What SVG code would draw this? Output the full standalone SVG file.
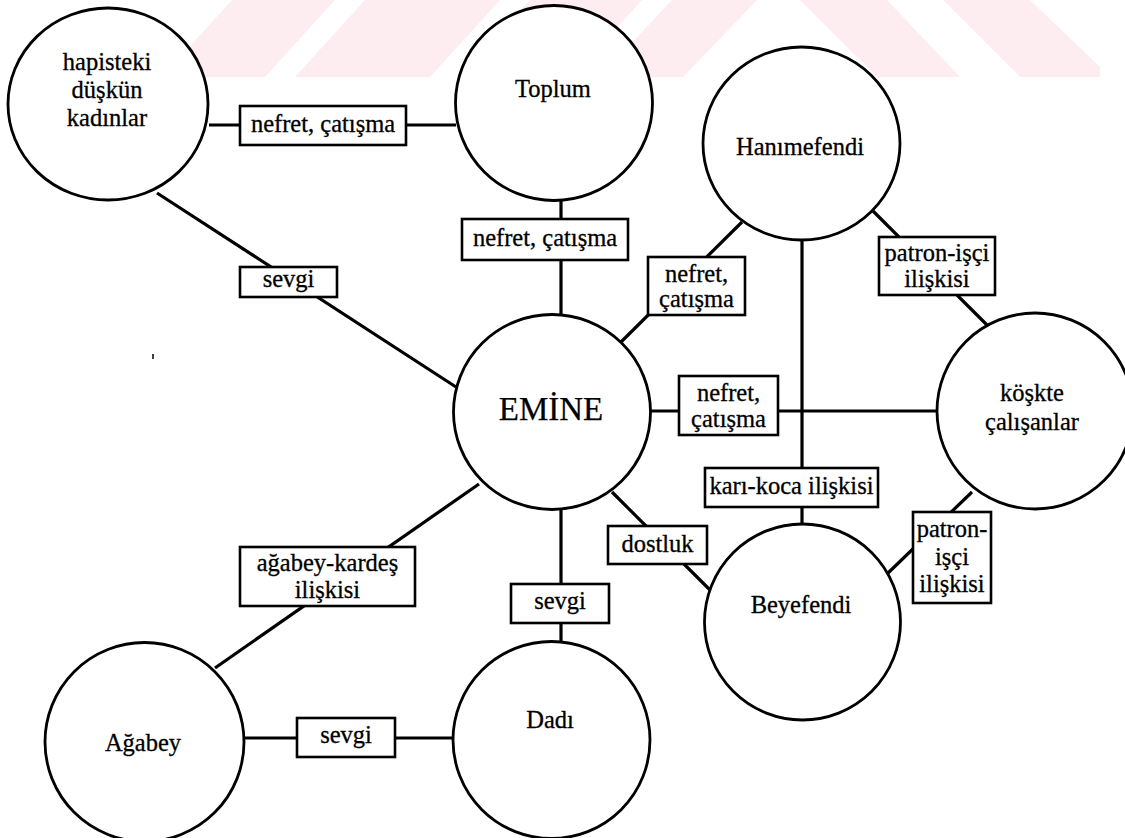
<svg xmlns="http://www.w3.org/2000/svg" width="1125" height="838" viewBox="0 0 1125 838">
<style>
.wm{fill:#fdedf0;stroke:none}
.node{fill:#fff;stroke:#000;stroke-width:2.8}
.edge{stroke:#000;stroke-width:3.2;fill:none;stroke-linecap:butt}
.lbl{fill:#fff;stroke:#000;stroke-width:2.6}
text{font-family:"Liberation Serif","Times New Roman",serif;font-size:24.5px;fill:#000;text-anchor:middle;stroke:#000;stroke-width:0.3}
.big{font-size:33px;stroke-width:0.25}
</style>
<rect width="1125" height="838" fill="#fff"/>
<g id="watermark">
<polygon class="wm" points="162,77 232,0 335,0 265,77"/>
<polygon class="wm" points="295,77 365,0 500,0 430,77"/>
<polygon class="wm" points="460,77 530,0 642,0 572,77"/>
<polygon class="wm" points="600,77 672,0 757,0 683,77"/>
<polygon class="wm" points="800,0 887,0 960,77 877,77"/>
<polygon class="wm" points="943,0 1030,0 1100,67 1100,77 1020,77"/>
</g>
<g id="connectors">
<line class="edge" x1="209" y1="125" x2="456" y2="125"/>
<line class="edge" x1="157" y1="193" x2="456" y2="387"/>
<line class="edge" x1="561" y1="200" x2="561" y2="315"/>
<line class="edge" x1="742" y1="222" x2="621" y2="342"/>
<line class="edge" x1="802" y1="240" x2="802" y2="524"/>
<line class="edge" x1="873" y1="211" x2="987" y2="325"/>
<line class="edge" x1="650" y1="411" x2="937" y2="411"/>
<line class="edge" x1="612" y1="492" x2="710" y2="590"/>
<line class="edge" x1="972" y1="492" x2="888" y2="573"/>
<line class="edge" x1="561" y1="510" x2="561" y2="642"/>
<line class="edge" x1="479" y1="484" x2="215" y2="668"/>
<line class="edge" x1="244" y1="738" x2="453" y2="738"/>
<line x1="153" y1="354" x2="153" y2="359" stroke="#000" stroke-width="1.5"/>
</g>
<g id="n-hapisteki">
<ellipse class="node" cx="108" cy="104" rx="100" ry="96"/>
<text x="107" y="70">hapisteki</text>
<text x="107" y="98">düşkün</text>
<text x="107" y="126">kadınlar</text>
</g>
<g id="n-toplum">
<ellipse class="node" cx="554" cy="103" rx="98.5" ry="97.5"/>
<text x="553" y="97">Toplum</text>
</g>
<g id="n-hanimefendi">
<ellipse class="node" cx="801.5" cy="143.5" rx="98.5" ry="96.5"/>
<text x="800" y="155">Hanımefendi</text>
</g>
<g id="n-emine">
<ellipse class="node" cx="552" cy="412" rx="98.5" ry="97.5"/>
<text class="big" x="551" y="420">EMİNE</text>
</g>
<g id="n-koskte">
<ellipse class="node" cx="1035" cy="411" rx="98" ry="98"/>
<text x="1032" y="401">köşkte</text>
<text x="1032" y="430">çalışanlar</text>
</g>
<g id="n-beyefendi">
<ellipse class="node" cx="802.5" cy="622" rx="98" ry="98"/>
<text x="801" y="613">Beyefendi</text>
</g>
<g id="n-agabey">
<ellipse class="node" cx="144.5" cy="742" rx="99.5" ry="99.5"/>
<text x="143" y="751">Ağabey</text>
</g>
<g id="n-dadi">
<ellipse class="node" cx="551.5" cy="740" rx="98.5" ry="98.5"/>
<text x="550" y="728">Dadı</text>
</g>
<g id="l-hap-top">
<rect class="lbl" x="240" y="106" width="166" height="39"/>
<text x="323" y="132">nefret, çatışma</text>
</g>
<g id="l-hap-emine">
<rect class="lbl" x="240" y="267" width="97" height="30"/>
<text x="288.5" y="287">sevgi</text>
</g>
<g id="l-top-emine">
<rect class="lbl" x="462" y="219" width="166" height="41"/>
<text x="545" y="246">nefret, çatışma</text>
</g>
<g id="l-han-emine">
<rect class="lbl" x="648" y="257" width="97" height="58"/>
<text x="696.5" y="282">nefret,</text>
<text x="696.5" y="307">çatışma</text>
</g>
<g id="l-han-kos">
<rect class="lbl" x="879" y="237" width="116" height="58"/>
<text x="937" y="261">patron-işçi</text>
<text x="937" y="287">ilişkisi</text>
</g>
<g id="l-emine-kos">
<rect class="lbl" x="679" y="376" width="99" height="59"/>
<text x="728.5" y="401">nefret,</text>
<text x="728.5" y="427">çatışma</text>
</g>
<g id="l-han-bey">
<rect class="lbl" x="705" y="468" width="173" height="39"/>
<text x="791.5" y="494">karı-koca ilişkisi</text>
</g>
<g id="l-emine-bey">
<rect class="lbl" x="608" y="526" width="99" height="38"/>
<text x="657.5" y="552">dostluk</text>
</g>
<g id="l-kos-bey">
<rect class="lbl" x="913" y="512" width="78" height="91"/>
<text x="952" y="537">patron-</text>
<text x="952" y="565">işçi</text>
<text x="952" y="592">ilişkisi</text>
</g>
<g id="l-emine-dadi">
<rect class="lbl" x="511" y="584" width="98" height="39"/>
<text x="560" y="609">sevgi</text>
</g>
<g id="l-emine-agabey">
<rect class="lbl" x="240" y="547" width="175" height="59"/>
<text x="327.5" y="571">ağabey-kardeş</text>
<text x="327.5" y="598">ilişkisi</text>
</g>
<g id="l-agabey-dadi">
<rect class="lbl" x="297" y="718" width="98" height="39"/>
<text x="346" y="743">sevgi</text>
</g>
</svg>
